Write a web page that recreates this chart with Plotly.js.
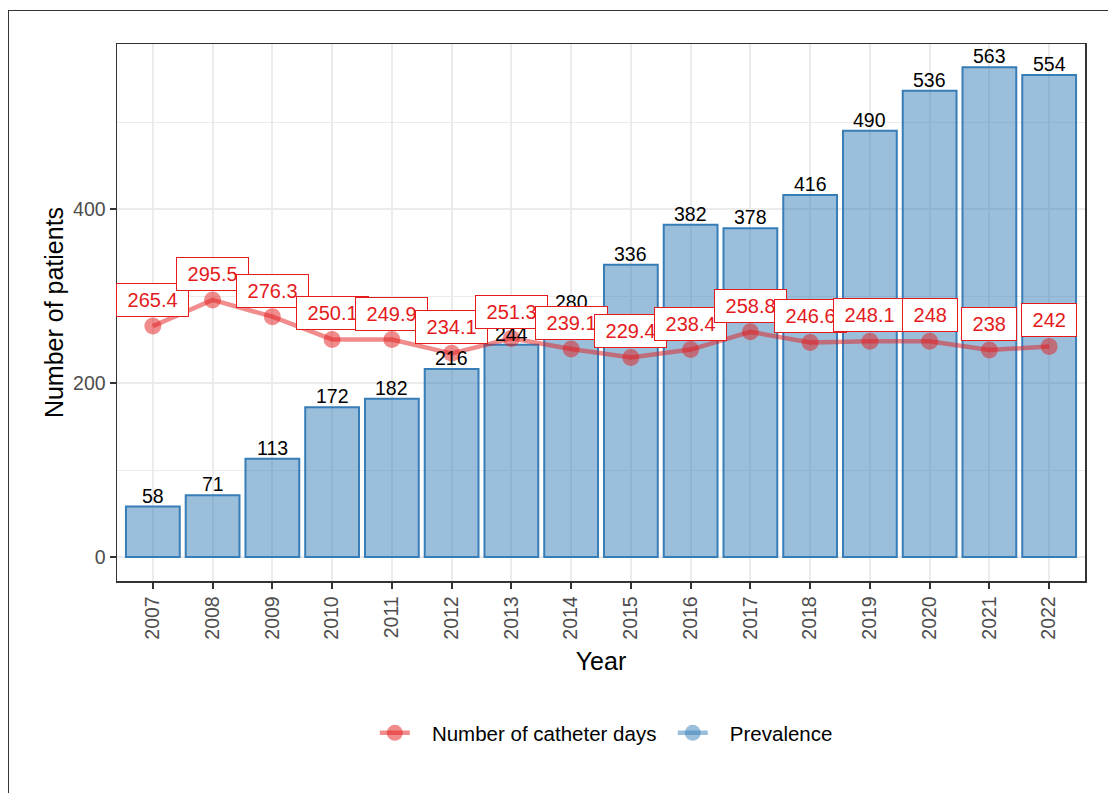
<!DOCTYPE html>
<html>
<head>
<meta charset="utf-8">
<script src="https://cdn.plot.ly/plotly-3.0.1.min.js"></script>
<style>
  html, body { margin: 0; padding: 0; background: #fff; overflow: hidden; }
  #chart { width: 1108px; height: 793px; position: absolute; left: 0; top: 0; }
  #frame { position: absolute; left: 8px; top: 10px; width: 1300px; height: 1000px;
           border: 1.5px solid #333; pointer-events: none; }
</style>
</head>
<body>
<div id="chart"></div>
<div id="frame"></div>
<script>
const years = ['2007','2008','2009','2010','2011','2012','2013','2014','2015','2016','2017','2018','2019','2020','2021','2022'];
const prevalence = [58, 71, 113, 172, 182, 216, 244, 280, 336, 382, 378, 416, 490, 536, 563, 554];
const catheterDays = [265.4, 295.5, 276.3, 250.1, 249.9, 234.1, 251.3, 239.1, 229.4, 238.4, 258.8, 246.6, 248.1, 248, 238, 242];
const yTickVals = [0, 200, 400];
const seriesNames = ['Number of catheter days', 'Prevalence'];

const RED = '#E41A1C';
const BLUE = '#377EB8';
const FONT = 'Liberation Sans, Arial, sans-serif';
const PAD = '\u00a0\u00a0\u00a0';

const traces = [
  {
    type: 'bar', x: years, y: prevalence, name: seriesNames[1], showlegend: false,
    marker: { color: 'rgba(55,126,184,0.5)', line: { color: BLUE, width: 2 } },
    hoverinfo: 'x+y'
  },
  {
    type: 'scatter', mode: 'lines+markers', x: years, y: catheterDays,
    name: PAD + seriesNames[0] + '\u00a0\u00a0',
    line: { color: 'rgba(228,26,28,0.5)', width: 4.5 },
    marker: { color: 'rgba(228,26,28,0.5)', size: 17 },
    cliponaxis: false
  },
  {
    type: 'scatter', mode: 'lines+markers', x: [null], y: [null], name: PAD + seriesNames[1],
    line: { color: 'rgba(55,126,184,0.5)', width: 4.5 },
    marker: { color: 'rgba(55,126,184,0.5)', size: 17 }
  }
];

const annotations = [];
years.forEach((yr, i) => {
  annotations.push({
    x: i, y: prevalence[i], text: String(prevalence[i]), showarrow: false,
    yanchor: 'middle', yshift: 11, font: { family: FONT, size: 19.5, color: '#000' }
  });
});
years.forEach((yr, i) => {
  annotations.push({
    x: i, y: catheterDays[i], text: '\u00a0' + String(catheterDays[i]) + '\u00a0', showarrow: false,
    yanchor: 'middle', yshift: 26, bgcolor: '#fff', bordercolor: RED, borderwidth: 1, borderpad: 5,
    font: { family: FONT, size: 20, color: RED }
  });
});

const layout = {
  width: 1108, height: 793,
  margin: { l: 117, r: 23, t: 44, b: 212 },
  paper_bgcolor: 'rgba(0,0,0,0)', plot_bgcolor: '#fff',
  font: { family: FONT, color: '#000' },
  bargap: 0.1,
  showlegend: true,
  legend: {
    orientation: 'h', x: 0.5055, xanchor: 'center', y: -0.283, yanchor: 'middle',
    font: { family: FONT, size: 20.5, color: '#000' }, traceorder: 'normal'
  },
  xaxis: {
    type: 'category', range: [-0.6, 15.6], tickangle: -90,
    tickfont: { family: FONT, size: 19.5, color: '#4D4D4D' },
    ticks: 'outside', ticklen: 6, tickwidth: 2, tickcolor: '#333',
    showgrid: true, gridcolor: '#EBEBEB', gridwidth: 2,
    showline: true, mirror: true, linecolor: '#333', linewidth: 1.5,
    title: { text: 'Year', font: { family: FONT, size: 25, color: '#000' }, standoff: 14 }
  },
  yaxis: {
    range: [-27.6, 589.7], tickvals: yTickVals,
    tickfont: { family: FONT, size: 19.5, color: '#4D4D4D' },
    ticks: 'outside', ticklen: 6, tickwidth: 2, tickcolor: '#333',
    showgrid: true, gridcolor: '#EBEBEB', gridwidth: 2, zeroline: false,
    minor: { tickmode: 'linear', tick0: 0, dtick: 100, showgrid: true, gridcolor: '#EBEBEB', gridwidth: 1, ticks: '' },
    showline: true, mirror: true, linecolor: '#333', linewidth: 1.5,
    title: { text: 'Number of patients', font: { family: FONT, size: 25, color: '#000' }, standoff: 2 }
  },
  annotations: annotations
};

Plotly.newPlot('chart', traces, layout, { displayModeBar: false, staticPlot: true });
</script>
</body>
</html>
